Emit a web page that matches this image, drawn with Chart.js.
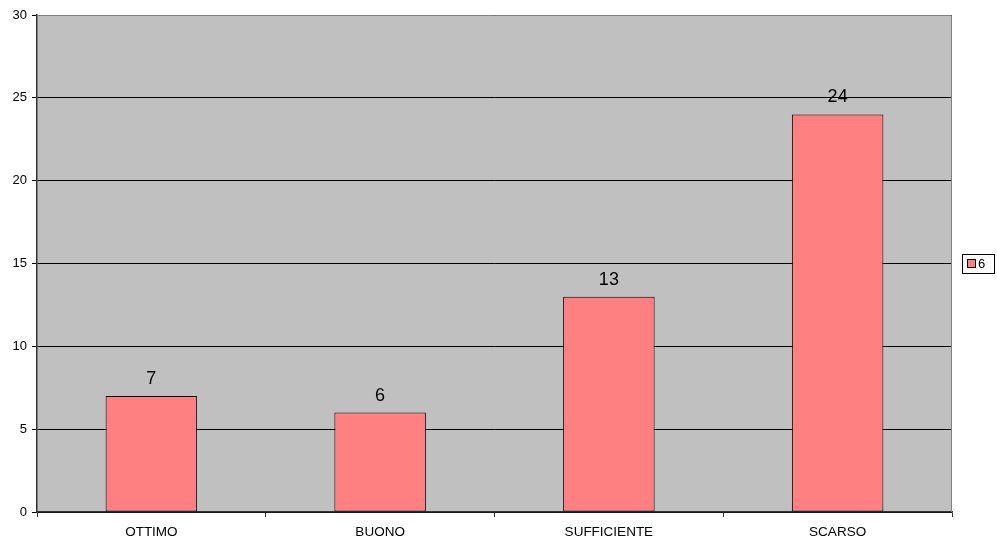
<!DOCTYPE html>
<html>
<head>
<meta charset="utf-8">
<script src="https://cdn.jsdelivr.net/npm/chart.js@4"></script>
<style>
  html, body { margin: 0; padding: 0; background: #fff; }
  #wrap { width: 997px; height: 545px; }
</style>
</head>
<body>
<div id="wrap"><canvas id="grafico" width="997" height="545"></canvas></div>
<script>
// dati del grafico
const categorie = ['OTTIMO', 'BUONO', 'SUFFICIENTE', 'SCARSO'];
const valori = [7, 6, 13, 24];
const nomeSerie = '6';
const yMin = 0, yMax = 30, yPasso = 5;

const FONT = '"Liberation Sans", Arial, sans-serif';

// sfondo grigio, bordo dell'area e legenda a destra
const areaPlugin = {
    id: 'area',
    beforeDraw(chart) {
        const { ctx, chartArea: a } = chart;
        ctx.save();
        ctx.fillStyle = '#c0c0c0';
        ctx.fillRect(a.left, a.top, a.right - a.left, a.bottom - a.top);
        ctx.restore();
    },
    afterDraw(chart) {
        const { ctx, chartArea: a } = chart;
        ctx.save();
        ctx.strokeStyle = '#808080';
        ctx.lineWidth = 1;
        ctx.beginPath();
        ctx.moveTo(a.left, a.top + 0.5);
        ctx.lineTo(a.right - 0.5, a.top + 0.5);
        ctx.lineTo(a.right - 0.5, a.bottom);
        ctx.stroke();

        // legenda
        const lx = 962, ly = 254, lw = 32, lh = 19;
        ctx.fillStyle = '#fff';
        ctx.fillRect(lx, ly, lw, lh);
        ctx.strokeStyle = '#000';
        ctx.strokeRect(lx + 0.5, ly + 0.5, lw, lh);
        ctx.fillStyle = '#ff8080';
        ctx.fillRect(lx + 5.5, ly + 5.5, 8, 8);
        ctx.strokeRect(lx + 5.5, ly + 5.5, 8, 8);
        ctx.fillStyle = '#000';
        ctx.font = '13px ' + FONT;
        ctx.textBaseline = 'middle';
        ctx.fillText(nomeSerie, lx + 16, ly + 10.5);
        ctx.restore();
    }
};

// etichette dei valori sopra le barre
const etichettePlugin = {
    id: 'etichette',
    afterDatasetsDraw(chart) {
        const { ctx } = chart;
        const meta = chart.getDatasetMeta(0);
        ctx.save();
        ctx.fillStyle = '#000';
        ctx.font = '18px ' + FONT;
        ctx.textAlign = 'center';
        ctx.textBaseline = 'bottom';
        meta.data.forEach((bar, i) => {
            ctx.fillText(String(valori[i]), bar.x, bar.y - 8);
        });
        ctx.restore();
    }
};

const ctx = document.getElementById('grafico').getContext('2d');
const grafico = new Chart(ctx, {
    type: 'bar',
    data: {
        labels: categorie,
        datasets: [{
            label: nomeSerie,
            data: valori,
            backgroundColor: '#ff8080',
            borderColor: '#000',
            borderWidth: 1,
            borderSkipped: false,
            categoryPercentage: 0.8,
            barPercentage: 0.5
        }]
    },
    options: {
        responsive: false,
        animation: false,
        layout: { padding: { left: 0, top: 15, right: 45, bottom: 0 } },
        plugins: {
            legend: { display: false },
            tooltip: { enabled: false }
        },
        scales: {
            x: {
                grid: {
                    offset: true,
                    drawOnChartArea: false,
                    drawTicks: true,
                    tickLength: 5,
                    color: '#333'
                },
                border: { color: '#333', width: 1.5 },
                ticks: {
                    color: '#000',
                    padding: 7,
                    font: { family: FONT, size: 13.5 }
                },
                afterFit(scale) { scale.height = 33; }
            },
            y: {
                min: yMin,
                max: yMax,
                grid: {
                    color: '#000',
                    tickLength: 5,
                    drawTicks: true
                },
                border: { color: '#333', width: 1.5 },
                ticks: {
                    stepSize: yPasso,
                    color: '#000',
                    padding: 5,
                    font: { family: FONT, size: 13 }
                },
                afterFit(scale) { scale.width = 37; }
            }
        }
    },
    plugins: [areaPlugin, etichettePlugin]
});
</script>
</body>
</html>
